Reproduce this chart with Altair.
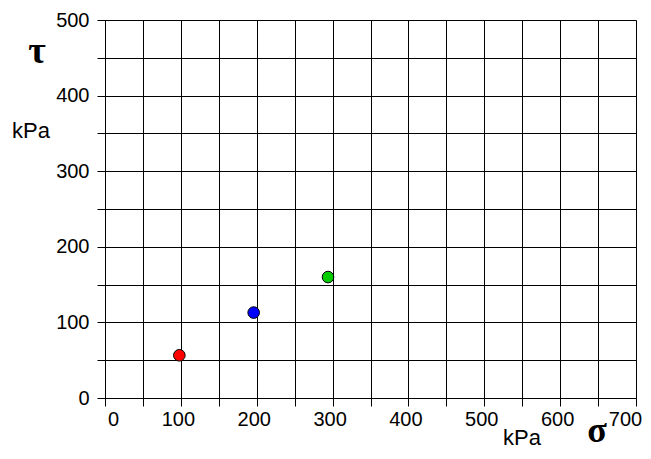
import altair as alt
import pandas as pd

# Data
sample = ["A", "B", "C"]
sigma = [98, 196, 294]
tau = [56.5, 113, 160]
colors = ["#ff0000", "#0000ff", "#00cc00"]

x_ticks = list(range(0, 701, 50))
y_ticks = list(range(0, 501, 50))

df = pd.DataFrame({"sample": sample, "sigma": sigma, "tau": tau})

FONT = "Liberation Sans"

points = alt.Chart(df).mark_circle(
    size=135, opacity=1, stroke="black", strokeWidth=1
).encode(
    x=alt.X(
        "sigma:Q",
        scale=alt.Scale(domain=[0, 700], nice=False, zero=False),
        axis=alt.Axis(
            values=x_ticks,
            title=None,
            grid=True,
            gridColor="black",
            gridOpacity=1,
            gridWidth=1,
            domainColor="black",
            tickColor="black",
            tickSize=8,
            labelExpr="datum.value % 100 == 0 ? datum.label : ''",
            labelFlush=False,
            labelOverlap=False,
            labelFont=FONT,
            labelFontSize=20,
            labelColor="black",
            labelPadding=3,
            labelOffset={"condition": [
                {"test": "datum.value == 0", "value": 8},
                {"test": "datum.value == 700", "value": -11},
            ], "value": -3},
        ),
    ),
    y=alt.Y(
        "tau:Q",
        scale=alt.Scale(domain=[0, 500], nice=False, zero=False),
        axis=alt.Axis(
            values=y_ticks,
            title=None,
            grid=True,
            gridColor="black",
            gridOpacity=1,
            gridWidth=1,
            domainColor="black",
            tickColor="black",
            tickSize=8,
            labelExpr="datum.value % 100 == 0 ? datum.label : ''",
            labelFlush=False,
            labelOverlap=False,
            labelFont=FONT,
            labelFontSize=20,
            labelColor="black",
            labelPadding=8,
        ),
    ),
    fill=alt.Fill("sample:N", scale=alt.Scale(domain=sample, range=colors), legend=None),
)

def label(text, x, y, font, size, weight="normal", align="center"):
    return alt.Chart(pd.DataFrame({"t": [text]})).mark_text(
        font=font, fontSize=size, fontWeight=weight, align=align,
        baseline="alphabetic", color="black"
    ).encode(text="t:N", x=alt.value(x), y=alt.value(y))

tau_lbl = label("τ", -68, 43, "Liberation Serif", 38, "bold")
ykpa = label("kPa", -74, 118, FONT, 22)
xkpa = label("kPa", 417, 425, FONT, 22)
sigma_lbl = label("σ", 492, 422, "Liberation Serif", 36, "bold")

chart = alt.layer(points, tau_lbl, ykpa, xkpa, sigma_lbl).properties(
    width=531,
    height=378,
    autosize=alt.AutoSizeParams(type="none"),
    padding={"left": 97, "top": 12, "right": 7, "bottom": 53},
).configure_view(stroke="black", strokeWidth=1).configure(background="white")

chart.save("out.html", embed_options={"renderer": "svg", "actions": False})
